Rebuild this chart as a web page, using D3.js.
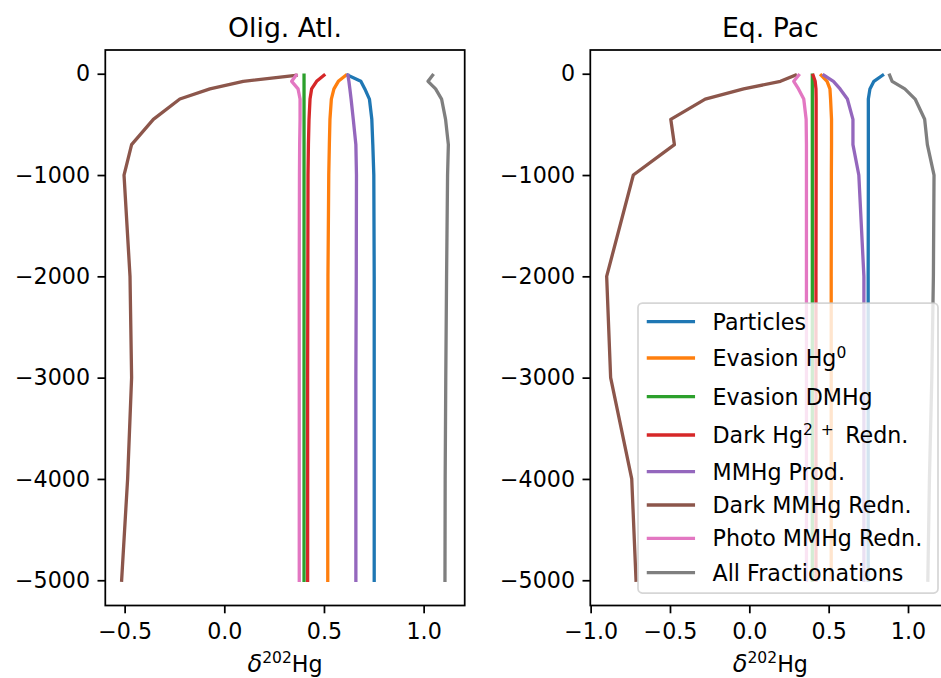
<!DOCTYPE html>
<html>
<head>
<meta charset="utf-8">
<script src="https://d3js.org/d3.v7.min.js"></script>
<style>
  body { margin: 0; background: #fff; }
  svg { display: block; font-family: "DejaVu Sans", sans-serif; }
</style>
</head>
<body>
<svg id="chart" width="941" height="678"></svg>
<script>
// depth levels (m) shared by every profile
const depth = [-15, -75, -150, -250, -450, -700, -1000, -2000, -3000, -4000, -5000];

const seriesNames = ["Particles", "Evasion Hg^{0}", "Evasion DMHg", "Dark Hg^{2\u2002+} \u2009Redn.",
  "MMHg Prod.", "Dark MMHg Redn.", "Photo MMHg Redn.", "All Fractionations"];
const colors = ["#1f77b4", "#ff7f0e", "#2ca02c", "#d62728", "#9467bd", "#8c564b", "#e377c2", "#7f7f7f"];

// Olig. Atl. profiles (delta202Hg)
const atlParticles = [0.62, 0.685, 0.705, 0.728, 0.74, 0.745, 0.75, 0.752, 0.752, 0.752, 0.752];
const atlEvasionHg0 = [0.61, 0.572, 0.55, 0.537, 0.53, 0.527, 0.524, 0.52, 0.519, 0.519, 0.519];
const atlEvasionDMHg = [0.40, 0.40, 0.40, 0.40, 0.40, 0.40, 0.40, 0.40, 0.40, 0.40, 0.40];
const atlDarkHg2 = [0.50, 0.463, 0.438, 0.43, 0.425, 0.422, 0.42, 0.419, 0.418, 0.418, 0.418];
const atlMMHgProd = [0.62, 0.625, 0.63, 0.636, 0.647, 0.66, 0.663, 0.662, 0.66, 0.66, 0.66];
const atlDarkMMHg = [0.36, 0.095, -0.072, -0.223, -0.356, -0.465, -0.503, -0.473, -0.465, -0.485, -0.515];
const atlPhotoMMHg = [0.36, 0.338, 0.37, 0.38, 0.38, 0.378, 0.377, 0.376, 0.376, 0.376, 0.376];
const atlAll = [1.045, 1.022, 1.06, 1.09, 1.11, 1.124, 1.12, 1.115, 1.111, 1.108, 1.107];

// Eq. Pac profiles
const pacParticles = [0.84, 0.785, 0.76, 0.75, 0.75, 0.75, 0.75, 0.749, 0.749, 0.749, 0.749];
const pacEvasionHg0 = [0.453, 0.49, 0.508, 0.512, 0.518, 0.518, 0.517, 0.516, 0.516, 0.516, 0.516];
const pacEvasionDMHg = [0.397, 0.397, 0.397, 0.397, 0.397, 0.397, 0.397, 0.397, 0.397, 0.397, 0.397];
const pacDarkHg2 = [0.402, 0.415, 0.42, 0.421, 0.421, 0.421, 0.421, 0.42, 0.42, 0.42, 0.42];
const pacMMHgProd = [0.47, 0.53, 0.572, 0.618, 0.653, 0.653, 0.69, 0.722, 0.722, 0.722, 0.722];
const pacDarkMMHg = [0.29, 0.196, -0.036, -0.278, -0.495, -0.472, -0.731, -0.899, -0.874, -0.741, -0.714];
const pacPhotoMMHg = [0.311, 0.28, 0.31, 0.343, 0.358, 0.36, 0.36, 0.36, 0.36, 0.36, 0.36];
const pacAll = [0.884, 0.90, 0.98, 1.045, 1.105, 1.122, 1.164, 1.16, 1.15, 1.135, 1.125];

const yTicks = [0, -1000, -2000, -3000, -4000, -5000];
const atlXTicks = [-0.5, 0.0, 0.5, 1.0];
const pacXTicks = [-1.0, -0.5, 0.0, 0.5, 1.0];

const panels = [
  { title: "Olig. Atl.", x0: 105.3, x1: 464.7, xTicks: atlXTicks,
    series: [atlParticles, atlEvasionHg0, atlEvasionDMHg, atlDarkHg2, atlMMHgProd, atlDarkMMHg, atlPhotoMMHg, atlAll] },
  { title: "Eq. Pac", x0: 590.3, x1: 950.4, xTicks: pacXTicks, legend: true,
    series: [pacParticles, pacEvasionHg0, pacEvasionDMHg, pacDarkHg2, pacMMHgProd, pacDarkMMHg, pacPhotoMMHg, pacAll] }
];

const plotTop = 50, plotBottom = 605.5;
const fs = 22.2;       // 10pt
const lineW = 3.3;     // 1.5pt
const axW = 1.75;      // 0.8pt
const tickLen = 7.8;
const svg = d3.select("#chart");

// matplotlib style 5% margins
function padded(ext) {
  const p = (ext[1] - ext[0]) * 0.05;
  return [ext[0] - p, ext[1] + p];
}

const y = d3.scaleLinear().domain(padded(d3.extent(depth))).range([plotBottom, plotTop]);

// superscripts written as "text^{sup} rest"
function addRich(sel, label, supShift) {
  const m = label.match(/^(.*?)\^\{([^}]*)\}(.*)$/);
  if (!m) { sel.text(label); return; }
  sel.append("tspan").text(m[1]);
  sel.append("tspan").attr("font-size", "70%").attr("dy", -supShift).text(m[2]);
  if (m[3]) sel.append("tspan").attr("dy", supShift).text(m[3].replace(/^ /, "\u00a0"));
}

panels.forEach(p => {
  const all = p.series.flat();
  const x = d3.scaleLinear().domain(padded(d3.extent(all))).range([p.x0, p.x1]);
  const g = svg.append("g");

  // lines
  const line = d3.line().x(d => x(d[0])).y(d => y(d[1]));
  p.series.forEach((vals, i) => {
    g.append("path")
      .datum(vals.map((v, k) => [v, depth[k]]))
      .attr("d", line)
      .attr("fill", "none")
      .attr("stroke", colors[i])
      .attr("stroke-width", lineW)
      .attr("stroke-linejoin", "round")
      .attr("stroke-linecap", "square");
  });

  // axes
  const ya = g.append("g").attr("transform", `translate(${p.x0},0)`)
    .call(d3.axisLeft(y).tickValues(yTicks).tickFormat(d3.format("d")).tickSize(tickLen).tickPadding(7.5));
  const xa = g.append("g").attr("transform", `translate(0,${plotBottom})`)
    .call(d3.axisBottom(x).tickValues(p.xTicks).tickFormat(d3.format(".1f")).tickSize(tickLen).tickPadding(10.4));
  [ya, xa].forEach(a => {
    a.select(".domain").remove();
    a.selectAll(".tick line").attr("stroke", "#000").attr("stroke-width", axW);
    a.selectAll(".tick text").attr("font-size", fs).attr("font-family", "DejaVu Sans").attr("fill", "#000");
  });

  // frame
  g.append("rect").attr("x", p.x0).attr("y", plotTop)
    .attr("width", p.x1 - p.x0).attr("height", plotBottom - plotTop)
    .attr("fill", "none").attr("stroke", "#000").attr("stroke-width", axW);

  // title
  g.append("text").attr("x", (p.x0 + p.x1) / 2).attr("y", 37)
    .attr("text-anchor", "middle").attr("font-size", 26.7).text(p.title);

  // x label
  const xl = g.append("text").attr("x", (p.x0 + p.x1) / 2).attr("y", 671.5)
    .attr("text-anchor", "middle").attr("font-size", fs);
  xl.append("tspan").attr("font-style", "italic").attr("font-size", 24).text("\u03b4");
  xl.append("tspan").attr("font-size", "70%").attr("dy", -8.5).text("202");
  xl.append("tspan").attr("dy", 8.5).text("Hg");

  if (p.legend) {
    const lw = 300, lh = 290;
    const lx = p.x1 - 12.4 - lw, ly = plotBottom - 12.5 - lh;
    const lg = g.append("g");
    lg.append("rect").attr("x", lx).attr("y", ly).attr("width", lw).attr("height", lh)
      .attr("rx", 4.4).attr("fill", "#fff").attr("fill-opacity", 0.8)
      .attr("stroke", "#ccc").attr("stroke-opacity", 0.8).attr("stroke-width", axW);
    const rowY = [18.7, 55, 93.7, 132, 168.7, 202, 235.3, 269.7];
    seriesNames.forEach((name, i) => {
      const cy = ly + rowY[i];
      lg.append("line").attr("x1", lx + 10.4).attr("x2", lx + 55.4)
        .attr("y1", cy).attr("y2", cy)
        .attr("stroke", colors[i]).attr("stroke-width", lineW)
        .attr("stroke-linecap", "square");
      const t = lg.append("text").attr("x", lx + 74.5).attr("y", cy + 8)
        .attr("font-size", fs);
      addRich(t, name, 8.5);
    });
  }
});
</script>
</body>
</html>
